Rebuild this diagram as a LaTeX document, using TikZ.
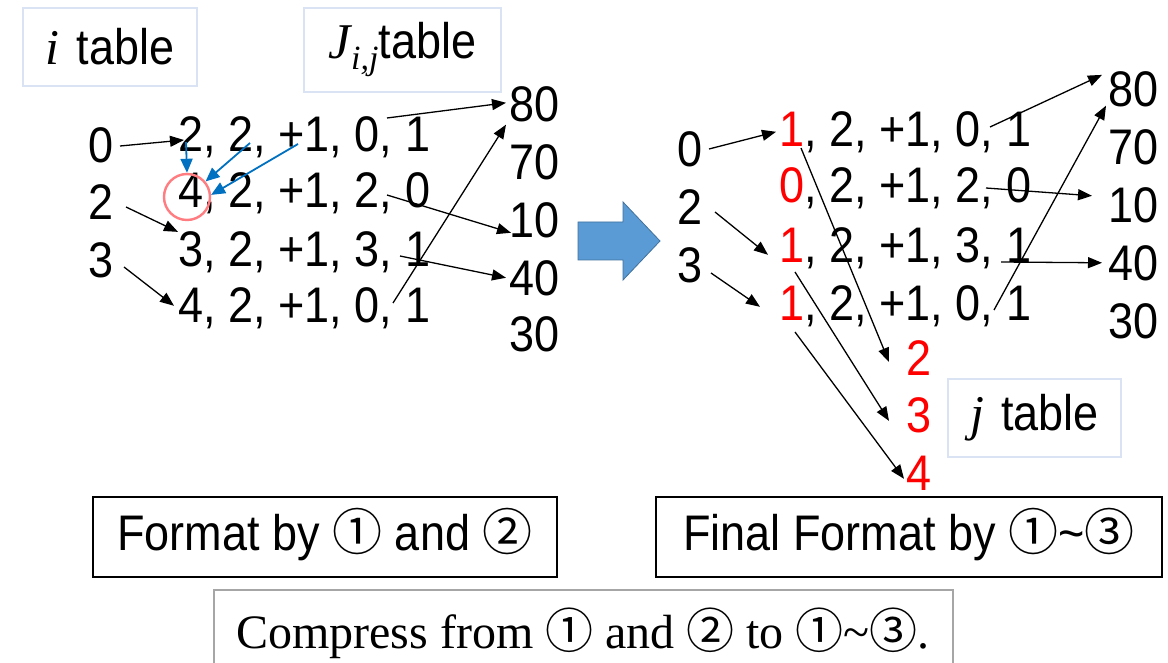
\documentclass[tikz,border=0pt]{standalone}
\usepackage{fontspec}
\setmainfont{Liberation Sans}
\newfontfamily\gfont{Liberation Sans}[FakeStretch=0.9]
\newfontfamily\cfont{Noto Sans CJK JP}
\newfontfamily\sfont{Liberation Serif}
\usetikzlibrary{arrows.meta,calc}
\definecolor{lbox}{HTML}{DAE3F3}
\definecolor{bigblue}{HTML}{5B9BD5}
\definecolor{bigblueborder}{HTML}{41719C}
\definecolor{arrblue}{HTML}{0070C0}
\definecolor{circred}{HTML}{FF7C80}
\definecolor{gbox}{HTML}{A6A6A6}
\definecolor{rtext}{HTML}{FF0000}
\newcommand{\cd}[1]{{\cfont #1}}
\tikzset{
  num/.style={font=\gfont\fontsize{50}{50}\selectfont, inner sep=0pt, anchor=base west},
  lab/.style={font=\gfont\fontsize{50}{50}\selectfont, inner sep=0pt, anchor=base},
  red/.style={text=rtext},
  arr/.style={-{Triangle[length=14pt,width=11pt]}, line width=1.3pt, black},
  barr/.style={-{Triangle[length=14pt,width=12pt]}, line width=1.8pt, arrblue},
  lblbox/.style={draw=lbox, line width=1.3pt, inner sep=0pt, font=\gfont\fontsize{50}{50}\selectfont},
  fmtbox/.style={draw=black, line width=1.3pt, inner sep=0pt, font=\gfont\fontsize{50}{50}\selectfont},
}
\begin{document}
\begin{tikzpicture}[x=1pt,y=-1pt]
\useasboundingbox (0,0) rectangle (1168,663);
\clip (0,0) rectangle (1168,663);
\fill[white] (0,0) rectangle (1168,663);

% ---------- left part ----------
\node[lblbox, minimum width=174pt, minimum height=78pt] (itab) at (110,47)
  {{\sfont\itshape i}\hspace{0.35em}table};
\node[lblbox, minimum width=197pt, minimum height=84pt] (jtab) at (402.5,50)
  {{\sfont\itshape J}\raisebox{-0.22em}{\sfont\itshape\fontsize{34}{34}\selectfont i,j}table};

\node[lab] (l0) at (101,163) {0};
\node[lab] (l2) at (101,220) {2};
\node[lab] (l3) at (101,278) {3};

\node[num] (L1a) at (178,152) {2};
\node[num] (L1b) at (L1a.base east) {, 2, +1, 0, 1};
\node[num] (L2a) at (178,208) {4};
\node[num] (L2b) at (L2a.base east) {, 2, +1, 2, 0};
\node[num] (L3a) at (178,267) {3};
\node[num] (L3b) at (L3a.base east) {, 2, +1, 3, 1};
\node[num] (L4a) at (178,323) {4};
\node[num] (L4b) at (L4a.base east) {, 2, +1, 0, 1};

\node[num] (v80) at (509,122) {80};
\node[num] (v70) at (509,180) {70};
\node[num] (v10) at (509,238) {10};
\node[num] (v40) at (509,295) {40};
\node[num] (v30) at (509,352) {30};

\node[draw=circred, circle, line width=2.4pt, minimum size=46pt, inner sep=0pt] (ring) at (187,197) {};

\coordinate (b1s) at (186,142);
\coordinate (b2s) at (250,143);
\coordinate (b3s) at (298,144);
\draw[barr] (b1s) -- (ring.north);
\draw[barr] (b2s) -- (ring.40);
\draw[barr] (b3s) -- (ring.5);

\coordinate (a0s) at (120,146);
\coordinate (a0e) at (184,140);
\draw[arr] (a0s) -- (a0e);
\coordinate (a2s) at (126,207);
\draw[arr] (a2s) -- (L3a.north west);
\coordinate (a3s) at (124,267);
\draw[arr] (a3s) -- ($(L4a.west)+(-4,0)$);

\coordinate (r1s) at (387,118);
\draw[arr] (r1s) -- ($(v80.west)+(-3,-2)$);
\coordinate (r2s) at (387,195);
\draw[arr] (r2s) -- ($(v10.west)+(2,12)$);
\coordinate (r3s) at (400,256);
\draw[arr] (r3s) -- ($(v40.west)+(-3,0)$);
\coordinate (r4s) at (393,303);
\draw[arr] (r4s) -- ($(v80.south west)+(-3,2)$);

% ---------- big arrow ----------
\draw[bigblueborder, fill=bigblue, line width=0.8pt]
  (578,222) -- (623,222) -- (623,202) -- (660,241) -- (623,280) -- (623,260) -- (578,260) -- cycle;

% ---------- right part ----------
\node[lab] (m0) at (690,167) {0};
\node[lab] (m2) at (690,225) {2};
\node[lab] (m3) at (690,283) {3};

\node[num, red] (R1a) at (779,147) {1};
\node[num] (R1b) at (R1a.base east) {, 2, +1, 0, 1};
\node[num, red] (R2a) at (779,203) {0};
\node[num] (R2b) at (R2a.base east) {, 2, +1, 2, 0};
\node[num, red] (R3a) at (779,262) {1};
\node[num] (R3b) at (R3a.base east) {, 2, +1, 3, 1};
\node[num, red] (R4a) at (779,320) {1};
\node[num] (R4b) at (R4a.base east) {, 2, +1, 0, 1};

\node[num] (w80) at (1108,107) {80};
\node[num] (w70) at (1108,165) {70};
\node[num] (w10) at (1108,223) {10};
\node[num] (w40) at (1108,280) {40};
\node[num] (w30) at (1108,338) {30};

\node[num, red] (j2) at (906,375) {2};
\node[num, red] (j3) at (906,432) {3};
\node[num, red] (j4) at (906,490) {4};

\node[lblbox, minimum width=173pt, minimum height=78pt] (jt) at (1034.5,418)
  {{\sfont\itshape j}\hspace{0.35em}table};

\coordinate (c0s) at (709,149);
\draw[arr] (c0s) -- ($(R1a.west)+(-3,2)$);
\coordinate (c2s) at (715,212);
\draw[arr] (c2s) -- ($(R3a.west)+(-11,10)$);
\coordinate (c3s) at (711,273);
\draw[arr] (c3s) -- ($(R4a.west)+(-19,4)$);

\coordinate (d1s) at (990,127);
\draw[arr] (d1s) -- ($(w80.north west)+(-6,3)$);
\coordinate (d4s) at (994,310);
\draw[arr] (d4s) -- ($(w80.south west)+(-2,-2)$);
\coordinate (d2s) at (986,188);
\draw[arr] (d2s) -- ($(w10.west)+(-16,-10)$);
\coordinate (d3s) at (1001,262);
\draw[arr] (d3s) -- ($(w40.west)+(-6,-0)$);

\coordinate (e1s) at (801,148);
\draw[arr] (e1s) -- ($(j2.north west)+(-17,22)$);
\coordinate (e3s) at (795,272);
\draw[arr] (e3s) -- ($(j3.north west)+(-17,24)$);
\coordinate (e4s) at (795,332);
\draw[arr] (e4s) -- ($(j4.west)+(-2,6)$);

% ---------- bottom boxes ----------
\node[fmtbox, minimum width=464pt, minimum height=80pt] (fmt) at (325,537) {};
\node[lab, anchor=base] (fmtt) at (325,550) {Format by \cd{①} and \cd{②}};
\node[fmtbox, minimum width=506pt, minimum height=80pt] (ffmt) at (909,537) {};
\node[lab, anchor=base] (ffmtt) at (909,550) {Final Format by \cd{①}\textasciitilde\cd{③}};

\node[draw=gbox, line width=1.3pt, minimum width=739pt, minimum height=90pt, inner sep=0pt] (cmp) at (583.5,635) {};
\node[font=\sfont\fontsize{48}{48}\selectfont, inner sep=0pt, anchor=base] (cmpt) at (583,648)
  {Compress from \cd{①} and \cd{②} to \cd{①}\textasciitilde\cd{③}.};
\end{tikzpicture}
\end{document}
